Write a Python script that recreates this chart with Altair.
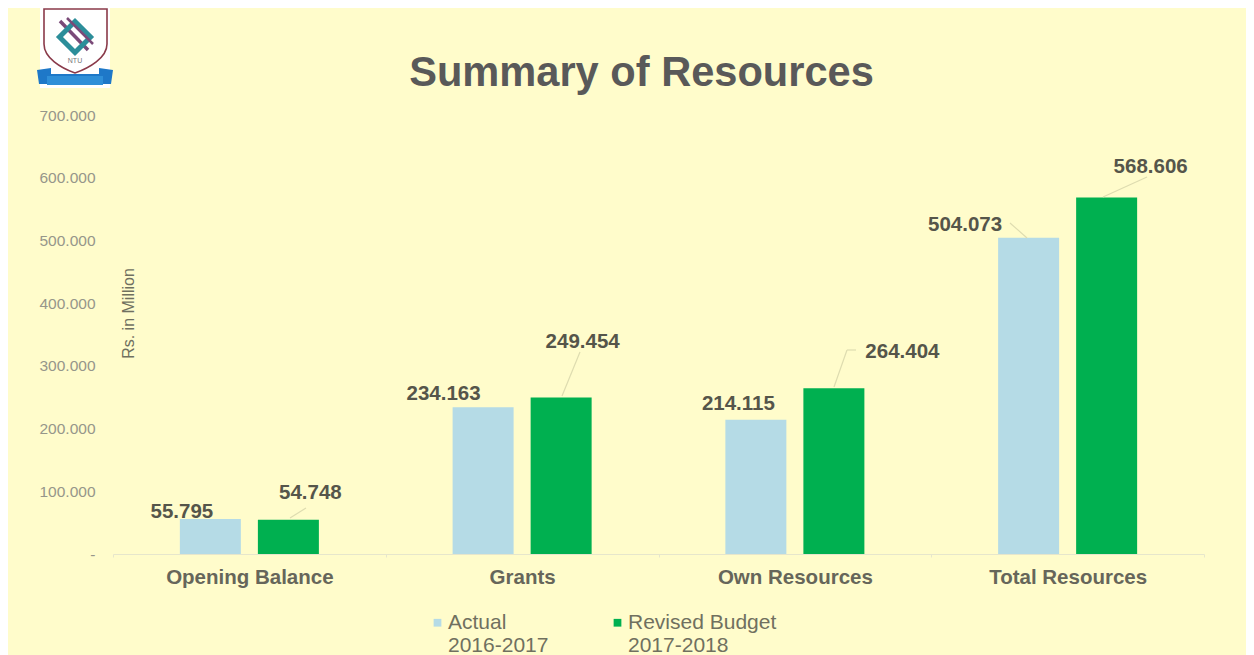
import base64
import altair as alt
import pandas as pd

categories = ["Opening Balance", "Grants", "Own Resources", "Total Resources"]
series_names = ["Actual\n2016-2017", "Revised Budget\n2017-2018"]
actual = [55.795, 234.163, 214.115, 504.073]
revised = [54.748, 249.454, 264.404, 568.606]
y_ticks = [0, 100, 200, 300, 400, 500, 600, 700]

colors = ["#B5DBE6", "#00B050"]
INK = "#55554A"
FONT = "Liberation Sans"

rows = []
for c, a, r in zip(categories, actual, revised):
    rows.append({"cat": c, "series": series_names[0], "value": a})
    rows.append({"cat": c, "series": series_names[1], "value": r})
df = pd.DataFrame(rows)

x_enc = alt.X("cat:N", sort=categories,
              scale=alt.Scale(paddingInner=0, paddingOuter=0),
              axis=alt.Axis(title=None, labelAngle=0, labelFontSize=20.5, labelFont=FONT,
                            labelFontWeight="bold", labelColor="#66665A", labelPadding=10,
                            domainColor="#E6E6CC", tickColor="#E6E6CC", tickSize=3,
                            tickBand="extent", grid=False))
xo_enc = alt.XOffset("series:N", sort=series_names,
                     scale=alt.Scale(paddingInner=0.218, paddingOuter=0.857))
y_enc = alt.Y("value:Q", scale=alt.Scale(domain=[0, 700], nice=False),
              axis=alt.Axis(values=y_ticks, title="Rs. in Million", titleFont=FONT,
                            titleFontSize=16, titleFontWeight="normal", titleColor="#70705F",
                            titleAngle=270, titleX=23, titleY=198, titleAlign="center",
                            labelFont=FONT, labelFontSize=15.5, labelColor="#96968A",
                            labelPadding=18, domain=False, ticks=False, grid=False,
                            labelExpr="datum.value == 0 ? '-\u00a0\u00a0\u00a0' : format(datum.value, '.3f')"))

bars = alt.Chart(df).mark_bar(size=61).encode(
    x=x_enc, xOffset=xo_enc, y=y_enc,
    color=alt.Color("series:N", sort=series_names,
                    scale=alt.Scale(domain=series_names, range=colors),
                    legend=alt.Legend(title=None, orient="none", legendX=314, legendY=497,
                                      direction="horizontal", columns=2, columnPadding=58,
                                      symbolType="square", symbolSize=60, symbolStrokeWidth=0,
                                      labelFont=FONT, labelFontSize=21, labelColor="#70705F",
                                      labelOffset=0, labelLimit=220,
                                      labelExpr="split(datum.label, '\\n')")),
)

# Label offsets from the top of each bar (dx, dy), in the order of df's rows
label_offsets = [(-28.5, -7), (22, -27), (-39.5, -13), (21.5, -56),
                 (-17.5, -16), (68.5, -36), (-63.5, -13), (44, -30)]
labels = []
for (_, row), (dx, dy) in zip(df.iterrows(), label_offsets):
    labels.append(
        alt.Chart(pd.DataFrame([row])).mark_text(
            dx=dx, dy=dy, font=FONT, fontSize=20.5, fontWeight="bold", color=INK,
            align="center", baseline="middle",
        ).encode(x=alt.X("cat:N", sort=categories), xOffset=alt.XOffset("series:N", sort=series_names),
                 y="value:Q", text=alt.Text("value:Q", format=".3f"))
    )

# Leader-line segments, in pixels from the plot's top left corner
leaders = [(177, 403, 193, 393), (449, 281, 467, 237), (721, 272, 734, 235), (734, 235, 743, 235),
           (897, 108, 914, 123), (990, 82, 1034, 62)]
leader_layers = [
    alt.Chart(alt.Data(values=[{}])).mark_rule(color="#DEDCB0", strokeWidth=1.2).encode(
        x=alt.value(a), y=alt.value(b), x2=alt.value(c), y2=alt.value(d))
    for a, b, c, d in leaders
]

logo_svg = """<svg xmlns='http://www.w3.org/2000/svg' width='76' height='82' viewBox='0 0 76 82'>
<rect x='3' y='0' width='70' height='80' fill='#FFFFFF'/>
<path d='M7 1 L70 1 L70 36 C70 50 52 60 38 65 C24 60 7 50 7 36 Z' fill='#FFFFFF' stroke='#8A3A4A' stroke-width='1.6'/>
<line x1='23' y1='13' x2='51' y2='42' stroke='#7A4A78' stroke-width='3.5'/>
<rect x='27' y='18' width='22' height='22' transform='rotate(45 38 29)' fill='none' stroke='#2C8E9A' stroke-width='5'/>
<line x1='30' y1='10' x2='56' y2='36' stroke='#7A4A78' stroke-width='2.5'/>
<path d='M0 62 L14 60 L14 66 L62 66 L62 60 L76 62 L74 76 L2 76 Z' fill='#1E78C8'/>
<rect x='10' y='68' width='56' height='9' fill='#2F8FD8'/>
</svg>"""
logo_url = "data:image/svg+xml;base64," + base64.b64encode(logo_svg.encode()).decode()
logo = alt.Chart(alt.Data(values=[{}])).mark_image(width=76, height=82).encode(
    x=alt.value(-38), y=alt.value(-66), url=alt.value(logo_url))
logo_text = alt.Chart(alt.Data(values=[{}])).mark_text(
    text="NTU", font=FONT, fontSize=7, color="#777777").encode(
    x=alt.value(-38), y=alt.value(-54))

chart = alt.layer(bars, *leader_layers, *labels, logo, logo_text).properties(
    width=1091, height=439,
    background="#FFFCCB",
    padding={"left": 105, "top": 107, "right": 42, "bottom": 101},
    autosize=alt.AutoSizeParams(type="none"),
    title=alt.TitleParams("Summary of Resources", font=FONT, fontSize=41.6, fontWeight="bold",
                          color="#595959", anchor="middle", dx=-17, offset=-87),
).configure_view(stroke=None)

chart.save("out.html", embed_options={"renderer": "svg", "actions": False})
